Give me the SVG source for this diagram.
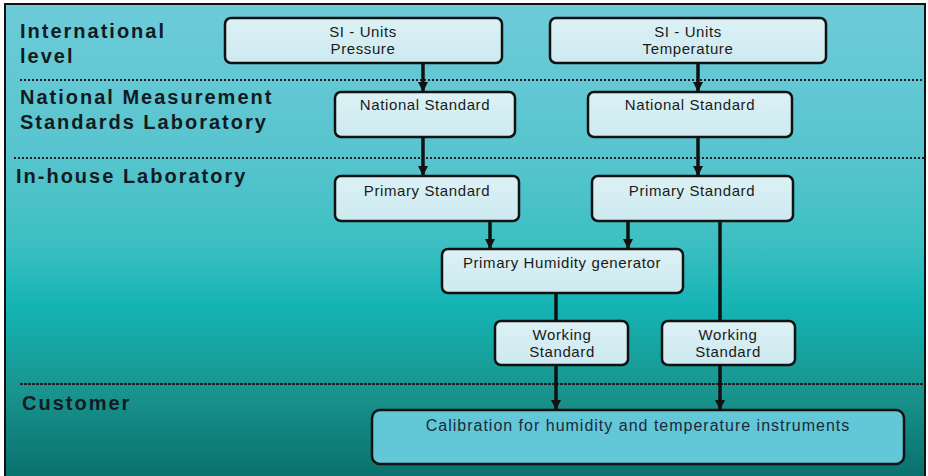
<svg xmlns="http://www.w3.org/2000/svg" width="928" height="476" viewBox="0 0 928 476">
  <style>
    .lvl { font-family: "Liberation Sans", Arial, sans-serif; font-size: 20px; font-weight: bold; fill: #121a22; letter-spacing: 2px; }
    .box { fill: url(#boxFill); stroke: #111; stroke-width: 2.5; }
    .cal { fill: #62c7d7; stroke: #111; stroke-width: 2.5; }
    .lbl { font-family: "Liberation Sans", Arial, sans-serif; font-size: 15px; fill: #1a1a1a; text-anchor: middle; letter-spacing: 0.6px; }
    .cal-lbl { font-family: "Liberation Sans", Arial, sans-serif; font-size: 16px; fill: #1c2a3a; text-anchor: middle; letter-spacing: 1px; }
    .sep { stroke: #1a1f28; stroke-width: 2; stroke-dasharray: 2 2; fill: none; }
    .wire { stroke: #111; stroke-width: 3.5; fill: none; }
  </style>
  <defs>
    <linearGradient id="bg" x1="0" y1="0" x2="0" y2="1">
      <stop offset="0" stop-color="#6ecbd9"/>
      <stop offset="0.33" stop-color="#56c4cd"/>
      <stop offset="0.5" stop-color="#3cbfc2"/>
      <stop offset="0.63" stop-color="#14b4b4"/>
      <stop offset="0.8" stop-color="#1a958f"/>
      <stop offset="1" stop-color="#086e6a"/>
    </linearGradient>
    <linearGradient id="boxFill" x1="0" y1="0" x2="0" y2="1">
      <stop offset="0" stop-color="#dcf1f5"/>
      <stop offset="1" stop-color="#cdeaf0"/>
    </linearGradient>
    <marker id="arrow" viewBox="0 0 10 10" refX="10" refY="5" markerWidth="10" markerHeight="10" markerUnits="userSpaceOnUse" orient="auto">
      <path d="M0,0 L10,5 L0,10 z" fill="#111"/>
    </marker>
  </defs>

  <!-- panel background and frame -->
  <rect x="0" y="0" width="928" height="476" fill="#ffffff"/>
  <rect x="5" y="4" width="920" height="480" fill="url(#bg)" stroke="#111" stroke-width="2"/>

  <!-- level separators -->
  <g id="separators">
    <line class="sep" x1="20" y1="80" x2="925" y2="80"/>
    <line class="sep" x1="14" y1="158" x2="925" y2="158"/>
    <line class="sep" x1="20" y1="384" x2="925" y2="384" style="stroke-dasharray:3 1"/>
  </g>

  <!-- level headings -->
  <g id="levels">
    <text class="lvl" x="20" y="38">International</text>
    <text class="lvl" x="20" y="63">level</text>
    <text class="lvl" x="20" y="104">National Measurement</text>
    <text class="lvl" x="20" y="129">Standards Laboratory</text>
    <text class="lvl" x="16" y="183">In-house Laboratory</text>
    <text class="lvl" x="22" y="410">Customer</text>
  </g>

  <!-- connectors -->
  <g id="connectors">
    <line class="wire" x1="423" y1="63" x2="423" y2="92" marker-end="url(#arrow)"/>
    <line class="wire" x1="698" y1="63" x2="698" y2="92" marker-end="url(#arrow)"/>
    <line class="wire" x1="423" y1="137" x2="423" y2="176" marker-end="url(#arrow)"/>
    <line class="wire" x1="698" y1="137" x2="698" y2="176" marker-end="url(#arrow)"/>
    <line class="wire" x1="490" y1="221" x2="490" y2="249" marker-end="url(#arrow)"/>
    <line class="wire" x1="628" y1="221" x2="628" y2="249" marker-end="url(#arrow)"/>
    <line class="wire" x1="556" y1="293" x2="556" y2="321"/>
    <line class="wire" x1="720" y1="221" x2="720" y2="321"/>
    <line class="wire" x1="556" y1="365" x2="556" y2="410" marker-end="url(#arrow)"/>
    <line class="wire" x1="720" y1="365" x2="720" y2="410" marker-end="url(#arrow)"/>
  </g>

  <!-- international level -->
  <g id="si-pressure">
    <rect class="box" x="225" y="18" width="277" height="45" rx="6"/>
    <text class="lbl" x="363" y="37">SI - Units</text>
    <text class="lbl" x="363" y="54">Pressure</text>
  </g>
  <g id="si-temperature">
    <rect class="box" x="550" y="18" width="276" height="45" rx="6"/>
    <text class="lbl" x="688" y="37">SI - Units</text>
    <text class="lbl" x="688" y="54">Temperature</text>
  </g>

  <!-- national laboratory -->
  <g id="national-pressure">
    <rect class="box" x="335" y="92" width="180" height="45" rx="6"/>
    <text class="lbl" x="425" y="110">National Standard</text>
  </g>
  <g id="national-temperature">
    <rect class="box" x="588" y="92" width="204" height="45" rx="6"/>
    <text class="lbl" x="690" y="110">National Standard</text>
  </g>

  <!-- in-house laboratory -->
  <g id="primary-pressure">
    <rect class="box" x="335" y="176" width="184" height="45" rx="6"/>
    <text class="lbl" x="427" y="196">Primary Standard</text>
  </g>
  <g id="primary-temperature">
    <rect class="box" x="592" y="176" width="201" height="45" rx="6"/>
    <text class="lbl" x="692" y="196">Primary Standard</text>
  </g>
  <g id="humidity-generator">
    <rect class="box" x="442" y="249" width="241" height="44" rx="6"/>
    <text class="lbl" x="562" y="268">Primary Humidity generator</text>
  </g>
  <g id="working-humidity">
    <rect class="box" x="495" y="321" width="133" height="44" rx="6"/>
    <text class="lbl" x="562" y="340">Working</text>
    <text class="lbl" x="562" y="357">Standard</text>
  </g>
  <g id="working-temperature">
    <rect class="box" x="662" y="321" width="133" height="44" rx="6"/>
    <text class="lbl" x="728" y="340">Working</text>
    <text class="lbl" x="728" y="357">Standard</text>
  </g>

  <!-- customer -->
  <g id="calibration">
    <rect class="cal" x="372" y="410" width="532" height="54" rx="8"/>
    <text class="cal-lbl" x="638" y="431">Calibration for humidity and temperature instruments</text>
  </g>
</svg>
